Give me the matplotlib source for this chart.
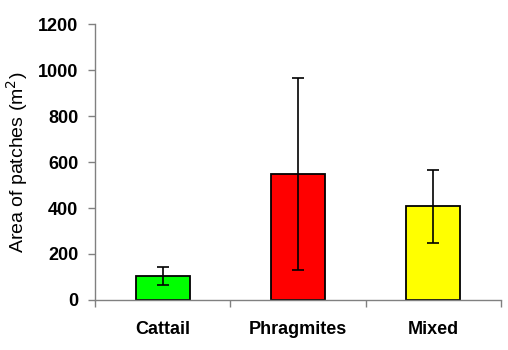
import matplotlib
matplotlib.use("Agg")
import matplotlib.pyplot as plt
import numpy as np

# data
categories = ["Cattail", "Phragmites", "Mixed"]
area_mean = [104, 548, 407]
area_err = [38, 416, 160]
bar_colors = ["#00FF00", "#FF0000", "#FFFF00"]

plt.rcParams["font.family"] = ["Liberation Sans", "DejaVu Sans"]

fig = plt.figure(figsize=(5.08, 3.5), dpi=100)
ax = fig.add_axes([0.187, 0.143, 0.799, 0.788])

x = np.arange(len(categories))
ax.bar(x, area_mean, width=0.4, color=bar_colors, edgecolor="black", linewidth=1.3, zorder=2)
ax.errorbar(x, area_mean, yerr=area_err, fmt="none", ecolor="black", elinewidth=1.2,
            capsize=4, capthick=1.2, zorder=3)

ax.set_xlim(-0.5, len(categories) - 0.5)
ax.set_ylim(0, 1200)
ax.set_yticks(np.arange(0, 1201, 200))
ax.tick_params(axis="y", labelsize=13, length=5, width=1, color="#808080", pad=7)
for lab in ax.get_yticklabels():
    lab.set_fontweight("bold")

# labels centred under bars, ticks at category boundaries
ax.set_xticks(x)
ax.set_xticklabels(categories, fontsize=13, fontweight="bold")
ax.tick_params(axis="x", which="major", length=0, pad=15)
ax.set_xticks(np.arange(-0.5, len(categories)), minor=True)
ax.tick_params(axis="x", which="minor", length=5, width=1, color="#808080")

ax.set_ylabel("Area of patches (m$^2$)", fontsize=14, labelpad=6)

for s in ["top", "right"]:
    ax.spines[s].set_visible(False)
for s in ["left", "bottom"]:
    ax.spines[s].set_color("#808080")
    ax.spines[s].set_linewidth(1.0)

fig.savefig("out.png", dpi=100)
